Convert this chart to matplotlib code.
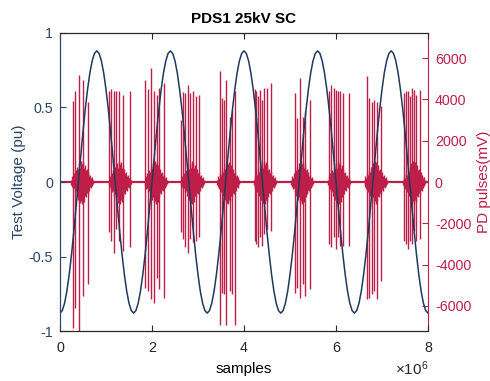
import numpy as np
import matplotlib.pyplot as plt
from matplotlib.ticker import FuncFormatter

plt.rcParams['font.family'] = ['Liberation Sans', 'DejaVu Sans']
plt.rcParams['mathtext.default'] = 'regular'

# ------------------------------------------------------------------
# data (x positions in units of 1e6 samples)
# ------------------------------------------------------------------
TITLE = "PDS1 25kV SC"
X_LABEL = "samples"
LEFT_LABEL = "Test Voltage (pu)"
RIGHT_LABEL = "PD pulses(mV)"

X_TICKS = [0, 2, 4, 6, 8]
LEFT_TICKS = [-1, -0.5, 0, 0.5, 1]
RIGHT_TICKS = [-6000, -4000, -2000, 0, 2000, 4000, 6000]
RIGHT_LIM = 7220

# test voltage, one cycle read every 0.05e6 samples (period 1.6e6, 5 cycles)
VOLT_STEP = 0.05
N_CYCLES = 5
VOLT_CYCLE = [-0.88, -0.863, -0.813, -0.732, -0.622, -0.489, -0.337, -0.172,
              0.0, 0.172, 0.337, 0.489, 0.622, 0.732, 0.813, 0.863,
              0.88, 0.863, 0.813, 0.732, 0.622, 0.489, 0.337, 0.172,
              0.0, -0.172, -0.337, -0.489, -0.622, -0.732, -0.813, -0.863]

# large PD pulses: position, positive peak, negative peak (mV)
PULSE_POS = [
    0.275, 0.333, 0.406, 0.500, 0.609,
    1.058, 1.109, 1.167, 1.225, 1.290, 1.370, 1.515,
    1.855, 1.920, 1.978, 2.051, 2.101, 2.145, 2.268,
    2.630, 2.681, 2.725, 2.775, 2.833, 2.899, 2.957, 3.029,
    3.471, 3.529, 3.565, 3.601, 3.696, 3.732, 3.804,
    4.239, 4.268, 4.311, 4.348, 4.399, 4.435, 4.507, 4.580,
    5.101, 5.159, 5.225, 5.283, 5.333, 5.442,
    5.848, 5.899, 5.949, 5.993, 6.043, 6.094, 6.152, 6.283,
    6.667, 6.725, 6.776, 6.833, 6.884, 6.978,
    7.485, 7.522, 7.558, 7.609, 7.652, 7.703, 7.739, 7.826,
]
PULSE_HI = [
    3940, 4420, 5170, 4960, 3900,
    4420, 4500, 4420, 4390, 4390, 4200, 4390,
    4960, 4500, 5530, 4390, 4230, 4550, 4800,
    3010, 4340, 4310, 4720, 4310, 4390, 4150, 4230,
    5370, 4070, 3980, 4930, 3170, 3500, 4390,
    4500, 4390, 4150, 4470, 3980, 4550, 4550, 4800,
    4310, 3090, 5040, 3170, 3420, 3980,
    4390, 4720, 4550, 4470, 4390, 4390, 4310, 4310,
    5120, 4070, 3900, 3980, 3900, 3660,
    4310, 4390, 4390, 4150, 4550, 4470, 4230, 4470,
]
PULSE_LO = [
    -7070, -6100, -7300, -5530, -4950,
    -2440, -2880, -3420, -2280, -2880, -3330, -3140,
    -5120, -5290, -5690, -5850, -4630, -5200, -5610,
    -2440, -2760, -3170, -3420, -2760, -2930, -2850, -2680,
    -6910, -5370, -5450, -6910, -5290, -5450, -6910,
    -2850, -3010, -3170, -2680, -3090, -2520, -2280, -2360,
    -5370, -5120, -5610, -4960, -5530, -5200,
    -3010, -3170, -2680, -3250, -2680, -3090, -3090, -3090,
    -5690, -5610, -5450, -5290, -5690, -4800,
    -2850, -3010, -3250, -2850, -3010, -2360, -2850, -2760,
]

# low level discharge activity around each burst
BURST_CENTERS = [0.48, 1.30, 2.08, 2.88, 3.66, 4.45, 5.26, 6.06, 6.86, 7.70]
NOISE_OFFSETS = [-0.24, -0.22, -0.20, -0.18, -0.16, -0.14, -0.12, -0.10, -0.08,
                 -0.06, -0.04, -0.02, 0.0, 0.02, 0.04, 0.06, 0.08, 0.10, 0.12,
                 0.14, 0.16, 0.18, 0.20, 0.22, 0.24]
NOISE_HI = [120, 300, 200, 450, 350, 600, 500, 750, 650, 900, 700, 1000, 850,
            950, 700, 800, 600, 650, 450, 500, 300, 350, 200, 250, 120]
NOISE_LO = [-150, -250, -350, -300, -500, -450, -700, -600, -850, -750, -1000,
            -900, -1050, -850, -950, -700, -750, -550, -600, -400, -450, -250,
            -300, -200, -120]

# ------------------------------------------------------------------
SCALE = 1e6
VOLT_COLOR = "#1f3a5c"
VOLT_AXIS = "#2a4566"
PD_COLOR = "#bd1f48"

fig = plt.figure(figsize=(4.9, 3.81), dpi=100)
ax = fig.add_axes([0.1224, 0.1312, 0.7511, 0.7822])
ax2 = ax.twinx()

# PD pulses on the right axis
pos = np.array(PULSE_POS) * SCALE
ax2.plot([0, X_TICKS[-1] * SCALE], [0, 0], color=PD_COLOR, lw=1.6)
for c in BURST_CENTERS:
    ax2.vlines((c + np.array(NOISE_OFFSETS)) * SCALE, NOISE_LO, NOISE_HI,
               color=PD_COLOR, lw=1.0)
ax2.vlines(pos, PULSE_LO, PULSE_HI, color=PD_COLOR, lw=1.0)

# test voltage on the left axis, drawn on top
volt = np.append(np.tile(VOLT_CYCLE, N_CYCLES), VOLT_CYCLE[0])
xs = np.arange(len(volt)) * VOLT_STEP * SCALE
ax.plot(xs, volt, color=VOLT_COLOR, lw=1.1)
ax.set_zorder(ax2.get_zorder() + 1)
ax.patch.set_visible(False)

ax.set_xlim(0, X_TICKS[-1] * SCALE)
ax.set_ylim(-1, 1)
ax2.set_ylim(-RIGHT_LIM, RIGHT_LIM)

ax.set_xticks([t * SCALE for t in X_TICKS])
ax.xaxis.set_major_formatter(FuncFormatter(lambda v, _: f"{v / SCALE:g}"))
ax.set_yticks(LEFT_TICKS)
ax.set_yticklabels([f"{v:g}" for v in LEFT_TICKS])
ax2.set_yticks(RIGHT_TICKS)
ax2.set_yticklabels([str(v) for v in RIGHT_TICKS])

ax.tick_params(axis="x", direction="in", top=True, length=4, width=0.8,
               colors="#262626", labelsize=10.3, pad=7)
ax.tick_params(axis="y", direction="in", length=4, width=0.8,
               colors=VOLT_AXIS, labelsize=10.3, pad=5)
ax2.tick_params(axis="y", direction="in", length=4, width=0.8,
                colors=PD_COLOR, labelsize=10.3, pad=5)

for sp in ["top", "bottom"]:
    ax.spines[sp].set_color("#262626")
ax.spines["left"].set_color(VOLT_AXIS)
ax2.spines["right"].set_color(PD_COLOR)
ax2.spines["left"].set_color(VOLT_AXIS)
ax.spines["right"].set_visible(False)

ax.set_title(TITLE, fontsize=11, fontweight="bold", pad=7)
ax.set_xlabel(X_LABEL, fontsize=11, labelpad=5)
ax.set_ylabel(LEFT_LABEL, fontsize=11, color=VOLT_AXIS, labelpad=2)
ax2.set_ylabel(RIGHT_LABEL, fontsize=11, color=PD_COLOR, labelpad=4)
ax.text(1.0, -0.125, r"$\times10^{6}$", transform=ax.transAxes,
        ha="right", va="center", fontsize=11, color="#262626")

fig.savefig("out.png", dpi=100)
